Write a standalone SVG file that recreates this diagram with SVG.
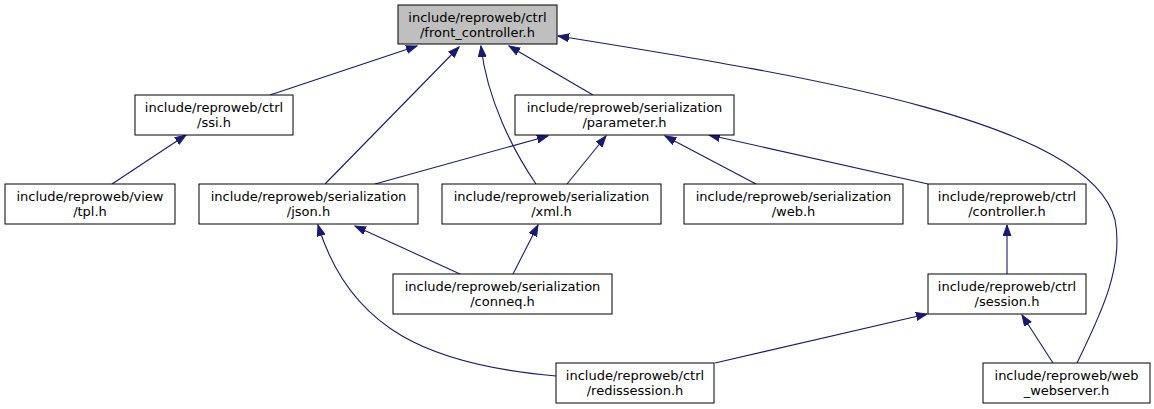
<svg xmlns="http://www.w3.org/2000/svg" width="1154" height="409" viewBox="0 0 1154 409">
<defs>
<style>
.node rect{fill:#ffffff;stroke:#000000;stroke-width:1}
#n_front rect{fill:#bfbfbf}
.node text{font-family:"DejaVu Sans","Liberation Sans",sans-serif;font-size:13px;fill:#000000;text-anchor:middle}
.edges path{fill:none;stroke:#191970;stroke-width:1.1;marker-end:url(#arr)}
</style>
<marker id="arr" markerUnits="userSpaceOnUse" markerWidth="12" markerHeight="9" refX="11" refY="4.5" orient="auto">
<path d="M0,0.5 L11,4.5 L0,8.5 z" fill="#191970" stroke="#191970" stroke-width="1"/>
</marker>
</defs>
<rect width="1154" height="409" fill="#ffffff"/>
<g class="edges">
<path d="M270,95 L417,46"/>
<path d="M325,184 L459,47"/>
<path d="M536,184 C514,152 487,100 481,46"/>
<path d="M593,95 L509,46"/>
<path d="M1077,363 C1095,325 1125,270 1115,220 C1090,120 800,75 558,36"/>
<path d="M112,184 L186,135"/>
<path d="M375,184 L548,136"/>
<path d="M567,184 L606,136"/>
<path d="M756,184 L665,136"/>
<path d="M928,184 L709,135"/>
<path d="M460,274 L355,226"/>
<path d="M513,274 L538,225"/>
<path d="M556,376 C430,365 350,330 318,225"/>
<path d="M1007,274 L1007,225"/>
<path d="M715,363 L927,314"/>
<path d="M1053,363 L1022,315"/>
</g>
<g id="n_front" class="node"><rect x="398" y="5" width="159" height="39"/><text x="477.5" y="22">include/reproweb/ctrl</text><text x="477.5" y="37">/front_controller.h</text></g>
<g id="n_ssi" class="node"><rect x="135" y="95" width="158" height="40"/><text x="214" y="112">include/reproweb/ctrl</text><text x="214" y="127">/ssi.h</text></g>
<g id="n_parameter" class="node"><rect x="515" y="95" width="219" height="40"/><text x="624.5" y="112">include/reproweb/serialization</text><text x="624.5" y="127">/parameter.h</text></g>
<g id="n_tpl" class="node"><rect x="5" y="184" width="170" height="40"/><text x="90" y="201">include/reproweb/view</text><text x="90" y="216">/tpl.h</text></g>
<g id="n_json" class="node"><rect x="199" y="184" width="219" height="40"/><text x="308.5" y="201">include/reproweb/serialization</text><text x="308.5" y="216">/json.h</text></g>
<g id="n_xml" class="node"><rect x="442" y="184" width="219" height="40"/><text x="551.5" y="201">include/reproweb/serialization</text><text x="551.5" y="216">/xml.h</text></g>
<g id="n_web" class="node"><rect x="684" y="184" width="219" height="40"/><text x="793.5" y="201">include/reproweb/serialization</text><text x="793.5" y="216">/web.h</text></g>
<g id="n_controller" class="node"><rect x="928" y="184" width="158" height="40"/><text x="1007" y="201">include/reproweb/ctrl</text><text x="1007" y="216">/controller.h</text></g>
<g id="n_conneq" class="node"><rect x="393" y="274" width="219" height="40"/><text x="502.5" y="291">include/reproweb/serialization</text><text x="502.5" y="306">/conneq.h</text></g>
<g id="n_session" class="node"><rect x="928" y="274" width="158" height="40"/><text x="1007" y="291">include/reproweb/ctrl</text><text x="1007" y="306">/session.h</text></g>
<g id="n_redissession" class="node"><rect x="556" y="363" width="158" height="40"/><text x="635" y="380">include/reproweb/ctrl</text><text x="635" y="395">/redissession.h</text></g>
<g id="n_webserver" class="node"><rect x="983" y="363" width="167" height="40"/><text x="1066.5" y="380">include/reproweb/web</text><text x="1066.5" y="395">_webserver.h</text></g>
</svg>
